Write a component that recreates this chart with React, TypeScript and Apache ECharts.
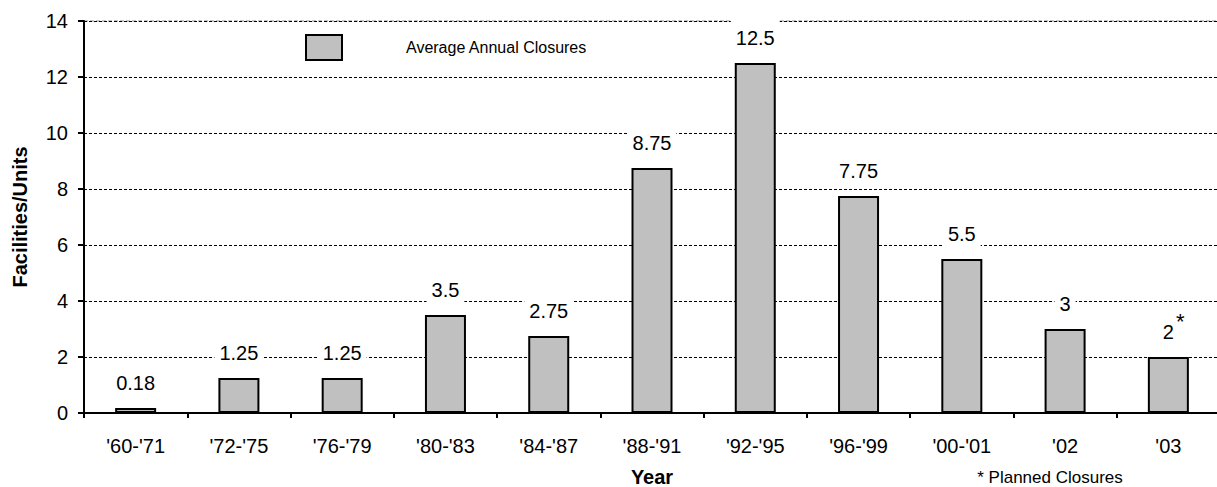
import React, { useEffect, useRef } from "react";
import * as echarts from "echarts";

const categories = ["'60-'71", "'72-'75", "'76-'79", "'80-'83", "'84-'87", "'88-'91", "'92-'95", "'96-'99", "'00-'01", "'02", "'03"];
const closures = [0.18, 1.25, 1.25, 3.5, 2.75, 8.75, 12.5, 7.75, 5.5, 3, 2];
const plannedCategory = "'03";
const seriesName = "Average Annual Closures";
const yTitle = "Facilities/Units";
const xTitle = "Year";
const footnote = "* Planned Closures";

const FONT = 'Arial, "Liberation Sans", Helvetica, sans-serif';

export default function App() {
  const ref = useRef<HTMLDivElement>(null);
  useEffect(() => {
    if (!ref.current) return;
    const chart = echarts.init(ref.current, null, { renderer: "svg" });
    const plannedIdx = categories.indexOf(plannedCategory);
    chart.setOption({
      animation: false,
      backgroundColor: "#fff",
      textStyle: { fontFamily: FONT, color: "#000" },
      grid: {
        left: 84,
        top: 21,
        bottom: 74,
        right: -3,
        outerBoundsMode: "none",
        containLabel: false,
        show: true,
        borderColor: "#8a8a8a",
        borderWidth: 1,
        borderType: "dashed",
      },
      legend: {
        left: 305,
        top: 34,
        padding: 0,
        itemWidth: 36,
        itemHeight: 25,
        icon: "rect",
        data: [seriesName],
        textStyle: { fontSize: 16, color: "#000", fontFamily: FONT, padding: [0, 0, 0, 59] },
      },
      xAxis: {
        type: "category",
        data: categories,
        name: xTitle,
        nameLocation: "middle",
        nameGap: 56,
        nameTextStyle: { fontSize: 20, lineHeight: 16, fontWeight: "bold", color: "#000", fontFamily: FONT },
        axisLine: { lineStyle: { color: "#000", width: 2 } },
        axisTick: { show: true, length: 5, lineStyle: { color: "#000", width: 2 } },
        axisLabel: { fontSize: 20, color: "#000", margin: 23, fontFamily: FONT },
      },
      yAxis: {
        type: "value",
        min: 0,
        max: 14,
        interval: 2,
        name: yTitle,
        nameLocation: "middle",
        nameGap: 54,
        nameTextStyle: { fontSize: 20, fontWeight: "bold", color: "#000", fontFamily: FONT },
        axisLine: { show: true, lineStyle: { color: "#000", width: 2 } },
        axisTick: { show: true, length: 6, lineStyle: { color: "#000", width: 2 } },
        axisLabel: { fontSize: 20, color: "#000", margin: 16, fontFamily: FONT },
        splitLine: { show: true, lineStyle: { color: "#000", width: 1, type: [3, 2] } },
      },
      series: [
        {
          name: seriesName,
          type: "bar",
          data: closures,
          barWidth: 41,
          itemStyle: { color: "#c0c0c0", borderColor: "#000", borderWidth: 2 },
          label: {
            show: true,
            position: "top",
            distance: 12,
            fontSize: 20,
            color: "#000",
            fontFamily: FONT,
            lineHeight: 20,
            backgroundColor: "#fff",
            padding: [9, 5, 3, 5],
            formatter: (p: any) => String(p.value),
          },
          markPoint: {
            symbol: "circle",
            symbolSize: 0,
            silent: true,
            data: [
              {
                coord: [plannedIdx, closures[plannedIdx]],
                label: {
                  show: true,
                  formatter: "*",
                  fontSize: 22,
                  color: "#000",
                  fontFamily: FONT,
                  offset: [12, -36],
                },
              },
            ],
          },
        },
      ],
      graphic: [
        {
          type: "text",
          x: 1050,
          y: 477,
          style: {
            text: footnote,
            fontSize: 17,
            lineHeight: 16,
            fontFamily: FONT,
            fill: "#000",
            textAlign: "center",
            textVerticalAlign: "middle",
          },
        },
      ],
    });
    return () => chart.dispose();
  }, []);
  return (
    <div
      ref={ref}
      style={{ position: "absolute", left: 0, top: 0, width: 1217, height: 487, overflow: "hidden" }}
    />
  );
}
